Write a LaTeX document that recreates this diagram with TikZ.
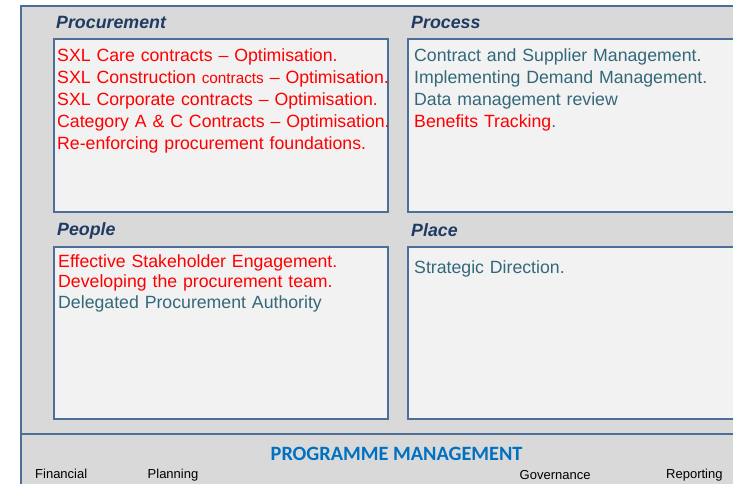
\documentclass[tikz,border=0pt]{standalone}
\usepackage{fontspec}
\setmainfont{Liberation Sans}
\newfontfamily\calibrifont{Carlito}
\usepackage{tikz}
\usepackage{xcolor}
\usetikzlibrary{positioning, calc, backgrounds}
\definecolor{PanelGrey}{HTML}{D9D9D9}
\definecolor{BoxGrey}{HTML}{F2F2F2}
\definecolor{FrameBlue}{HTML}{4E6E9A}
\definecolor{TitleNavy}{HTML}{203A62}
\definecolor{ItemTeal}{HTML}{33687A}
\definecolor{ItemRed}{HTML}{FF0000}
\definecolor{ProgBlue}{HTML}{0070C0}
\newcommand{\redline}[1]{\textcolor{ItemRed}{#1}}

\begin{document}
\begin{tikzpicture}[
    x=1pt, y=-1pt,
    panel/.style={draw=FrameBlue, line width=1.8pt, fill=PanelGrey},
    quad/.style={rectangle, draw=FrameBlue, line width=2pt, fill=BoxGrey,
                 anchor=north west, inner sep=0pt},
    quadtitle/.style={anchor=base west, inner sep=0pt, text=TitleNavy,
                      font=\fontsize{17.8}{20}\selectfont\bfseries\itshape},
    items/.style={anchor=base west, inner sep=0pt, align=left, text=ItemTeal,
                  text width=340pt, font=\fontsize{17.7}{22.1}\selectfont},
    strand/.style={anchor=base west, inner sep=0pt, text=black,
                   font=\fontsize{13}{15}\selectfont}
]
    \useasboundingbox (0,0) rectangle (733,483);

    % Outer panels
    \begin{scope}
        \clip (0,0) rectangle (733,483);
        \draw[panel] (21,6) rectangle (745,434);
        \draw[panel] (21,434) rectangle (745,495);
    \end{scope}

    % Four quadrants
    \node[quad, minimum width=334pt, minimum height=173pt] (procbox) at (53,38) {};
    \node[quad, minimum width=340pt, minimum height=173pt] (procsbox) at (407,38) {};
    \node[quad, minimum width=334pt, minimum height=172pt] (peoplebox) at (53,246) {};
    \node[quad, minimum width=340pt, minimum height=172pt] (placebox) at (407,246) {};
    \fill[white] (733,0) rectangle (760,483);

    % Titles
    \node[quadtitle] (proctitle) at (56,28) {Procurement};
    \node[quadtitle] (procstitle) at (411,28) {Process};
    \node[quadtitle] (peopletitle) at (57,235) {People};
    \node[quadtitle] (placetitle) at (411,236) {Place};

    % Items
    \node[items] (procitems) at (57,61.5) {
        \redline{SXL Care contracts -- Optimisation.}\\
        \redline{SXL Construction {\fontsize{15.3}{22}\selectfont contracts} -- Optimisation.}\\
        \redline{SXL Corporate contracts -- Optimisation.}\\
        \redline{Category A \& C Contracts -- Optimisation.}\\
        \redline{Re-enforcing procurement foundations.}
    };
    \node[items] (procsitems) at (414,61.5) {
        Contract and Supplier Management.\\
        Implementing Demand Management.\\
        Data management review\\
        \redline{Benefits Tracking}.
    };
    \node[items, font=\fontsize{17.7}{20.5}\selectfont] (peopleitems) at (58,267) {
        \redline{Effective Stakeholder Engagement.}\\
        \redline{Developing the procurement team.}\\
        Delegated Procurement Authority
    };
    \node[items] (placeitems) at (414,273) {Strategic Direction.};

    % Programme management strip
    \node[anchor=base west, inner sep=0pt, text=ProgBlue,
          font=\fontsize{20.3}{24}\selectfont\calibrifont\bfseries] (progmgmt) at (270.5,460.5)
        {PROGRAMME MANAGEMENT};
    \node[strand] (financial) at (35,478) {Financial};
    \node[strand] (planning) at (147.5,478) {Planning};
    \node[strand] (governance) at (519.5,479) {Governance};
    \node[strand] (reporting) at (666,478) {Reporting};
\end{tikzpicture}
\end{document}
